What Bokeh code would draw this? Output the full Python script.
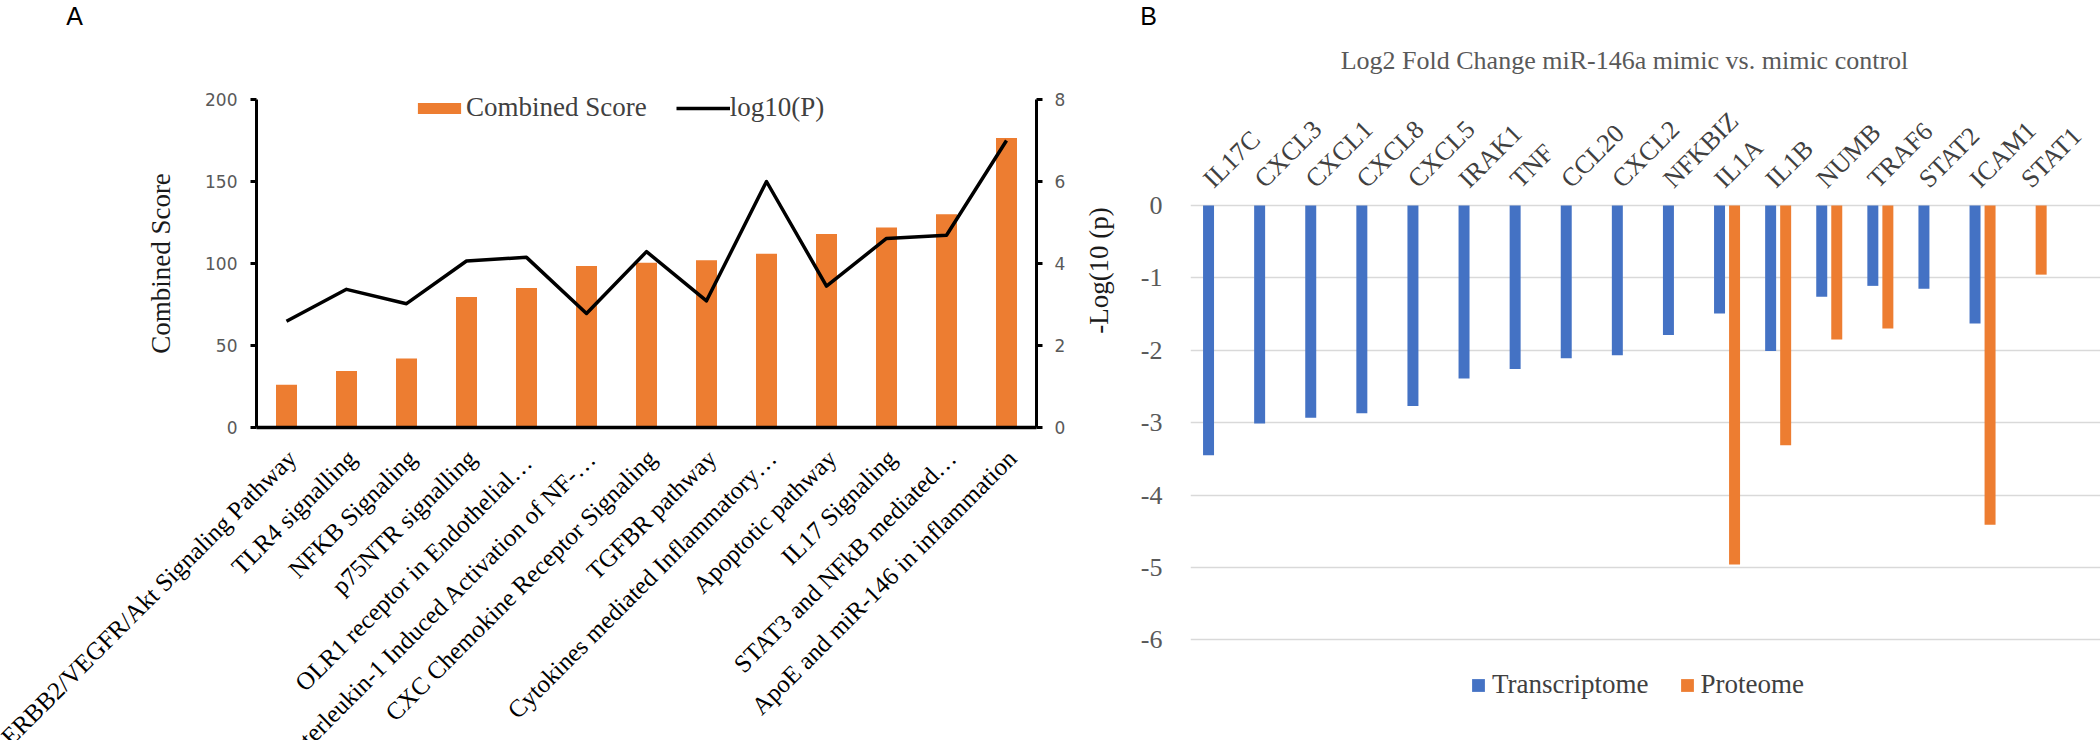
import math
from bokeh.plotting import figure
from bokeh.models import (Range1d, LinearAxis, FixedTicker, Legend, LegendItem,
                          Label, LabelSet, ColumnDataSource)
from bokeh.layouts import row
from bokeh.transform import dodge
from bokeh.embed import file_html
from bokeh.resources import INLINE

NAN = float("nan")

# ---------------- Panel A data ----------------
pathways = [
    "ERBB2/VEGFR/Akt Signaling Pathway",
    "TLR4 signalling",
    "NFKB Signaling",
    "p75NTR signalling",
    "OLR1 receptor in  Endothelial\u2026",
    "Interleukin-1 Induced Activation of NF-\u2026",
    "CXC Chemokine Receptor Signaling",
    "TGFBR pathway",
    "Cytokines mediated Inflammatory\u2026",
    "Apoptotic pathway",
    "IL17 Signaling",
    "STAT3 and NFkB mediated\u2026",
    "ApoE and miR-146 in inflammation",
]
combined_score = [26, 34.5, 42, 79.5, 85, 98.5, 100.5, 102, 106, 118, 122, 130, 176.5]
log10_p = [2.59, 3.37, 3.02, 4.06, 4.15, 2.78, 4.29, 3.09, 6.0, 3.45, 4.61, 4.69, 7.0]
left_ticks = [0, 50, 100, 150, 200]
right_ticks = [0, 2, 4, 6, 8]

# ---------------- Panel B data ----------------
genes = ["IL17C", "CXCL3", "CXCL1", "CXCL8", "CXCL5", "IRAK1", "TNF", "CCL20", "CXCL2",
         "NFKBIZ", "IL1A", "IL1B", "NUMB", "TRAF6", "STAT2", "ICAM1", "STAT1"]
transcriptome = [-3.45, -3.01, -2.93, -2.87, -2.77, -2.39, -2.26, -2.11, -2.07,
                 -1.79, -1.49, -2.01, -1.26, -1.11, -1.15, -1.63, NAN]
proteome = [NAN, NAN, NAN, NAN, NAN, NAN, NAN, NAN, NAN,
            NAN, -4.96, -3.31, -1.85, -1.70, NAN, -4.41, -0.955]
b_ticks = [0, -1, -2, -3, -4, -5, -6]

ORANGE = "#ED7D31"
BLUE = "#4472C4"
SERIF = "Liberation Serif"

H = 740  # canvas height of both panels

# ================= Panel A =================
WA = 1120
cat_px_a = 60.0          # pixels per category
axis_left_px = 256       # left axis position inside canvas
zero_px_a = 427          # y of the zero line from canvas top
k = 200 / 328.0          # score units per pixel
pa = figure(x_range=Range1d(-axis_left_px / cat_px_a, (WA - axis_left_px) / cat_px_a),
            y_range=Range1d(-(H - zero_px_a) * k, zero_px_a * k),
            frame_width=WA, frame_height=H, min_border=0,
            output_backend="svg", toolbar_location=None)
kp = 8 / 328.0
pa.extra_y_ranges = {"p": Range1d(-(H - zero_px_a) * kp, zero_px_a * kp)}
pa.outline_line_color = None
pa.grid.visible = False

n_a = len(pathways)
src_a = ColumnDataSource(dict(x=[i + 0.5 for i in range(n_a)], path=pathways,
                              score=combined_score, logp=log10_p, zero=[0] * n_a))
bars_a = pa.vbar(x="x", top="score", bottom=0, width=0.35, source=src_a,
                 fill_color=ORANGE, line_color=None)
line_a = pa.line(x="x", y="logp", source=src_a, y_range_name="p",
                 line_color="black", line_width=3.5, line_join="round")

# left axis
ya = pa.yaxis[0]
ya.fixed_location = 0
ya.bounds = (0, 200)
ya.ticker = FixedTicker(ticks=left_ticks)
ya.axis_line_width = 3
ya.axis_line_color = "black"
ya.major_tick_line_width = 3
ya.major_tick_line_color = "black"
ya.major_tick_out = 6
ya.major_tick_in = 0
ya.minor_tick_line_color = None
ya.major_label_standoff = 13
ya.major_label_text_font = "DejaVu Sans"
ya.major_label_text_font_size = "17px"
ya.major_label_text_color = "#595959"
ya.axis_label = "Combined Score"
ya.axis_label_text_font = SERIF
ya.axis_label_text_font_style = "normal"
ya.axis_label_text_font_size = "27px"
ya.axis_label_text_color = "#1a1a1a"
ya.axis_label_standoff = 26

# right axis
yr = LinearAxis(y_range_name="p", ticker=FixedTicker(ticks=right_ticks),
                fixed_location=n_a, bounds=(0, 8))
yr.axis_line_width = 3
yr.axis_line_color = "black"
yr.major_tick_line_width = 3
yr.major_tick_line_color = "black"
yr.major_tick_out = 6
yr.major_tick_in = 0
yr.minor_tick_line_color = None
yr.major_label_standoff = 12
yr.major_label_text_font = "DejaVu Sans"
yr.major_label_text_font_size = "17px"
yr.major_label_text_color = "#595959"
pa.add_layout(yr, "right")

# bottom axis: line only; category names drawn below it
xa = pa.xaxis[0]
xa.fixed_location = 0
xa.bounds = (0, n_a)
xa.ticker = FixedTicker(ticks=[])
xa.axis_line_width = 3.5
xa.axis_line_color = "black"
xa.major_tick_line_color = None
xa.minor_tick_line_color = None

cat_labels = LabelSet(x="x", y="zero", text="path", source=src_a,
                      angle=math.pi / 4, text_align="right", text_baseline="top",
                      x_offset=-4, y_offset=-17,
                      text_font=SERIF, text_font_size="25px", text_color="black")
pa.add_layout(cat_labels)

leg_a = Legend(items=[LegendItem(label="Combined Score", renderers=[bars_a]),
                      LegendItem(label="log10(P)", renderers=[line_a])],
               location=(412, H - 123), orientation="horizontal",
               glyph_width=54, glyph_height=14, label_standoff=0, spacing=29,
               padding=0, margin=0, border_line_color=None, background_fill_alpha=0,
               label_text_font=SERIF, label_text_font_size="27px",
               label_text_color="#404040")
pa.add_layout(leg_a)

pa.add_layout(Label(x=74, y=H - 15, x_units="screen", y_units="screen", text="A",
                    text_align="center", text_baseline="middle",
                    text_font="Liberation Sans", text_font_size="25px", text_color="black"))
pa.add_layout(Label(x=1098, y=H - 270, x_units="screen", y_units="screen", text="-Log(10 (p)",
                    angle=math.pi / 2, text_align="center", text_baseline="middle",
                    text_font=SERIF, text_font_size="27px", text_color="#1a1a1a"))

# ================= Panel B =================
cat_px_b = 51.1
left_b = 62
fw_b = 916
zero_px_b = 205          # zero line from canvas top
u = 72.4                 # pixels per unit
pb = figure(x_range=Range1d(0, fw_b / cat_px_b),
            y_range=Range1d(-(H - zero_px_b) / u, zero_px_b / u),
            frame_width=fw_b, frame_height=H,
            min_border=0, min_border_left=left_b,
            x_axis_location=None, output_backend="svg", toolbar_location=None)
pb.outline_line_color = None
pb.xgrid.visible = False
pb.ygrid.ticker = FixedTicker(ticks=b_ticks)
pb.ygrid.grid_line_color = "#D9D9D9"
pb.ygrid.grid_line_width = 1.5

n_b = len(genes)
src_b = ColumnDataSource(dict(x=[i + 0.5 for i in range(n_b)], gene=genes,
                              tr=transcriptome, pr=proteome, zero=[0] * n_b))
bt = pb.vbar(x=dodge("x", -0.147, range=pb.x_range), top="tr", bottom=0, width=0.215,
             source=src_b, fill_color=BLUE, line_color=None)
bp = pb.vbar(x=dodge("x", 0.147, range=pb.x_range), top="pr", bottom=0, width=0.215,
             source=src_b, fill_color=ORANGE, line_color=None)

yb = pb.yaxis[0]
yb.ticker = FixedTicker(ticks=b_ticks)
yb.major_label_overrides = {t: str(t) for t in b_ticks}
yb.axis_line_color = None
yb.major_tick_line_color = None
yb.minor_tick_line_color = None
yb.major_label_standoff = 22
yb.major_label_text_font = SERIF
yb.major_label_text_font_size = "26px"
yb.major_label_text_color = "#595959"

# gene names slanted at 45 degrees, starting just above the zero line
gene_labels = LabelSet(x="x", y="zero", text="gene", source=src_b,
                       angle=math.pi / 4, text_align="left", text_baseline="bottom",
                       x_offset=2, y_offset=12,
                       text_font=SERIF, text_font_size="26px", text_color="#404040")
pb.add_layout(gene_labels)

leg_b = Legend(items=[LegendItem(label="Transcriptome", renderers=[bt]),
                      LegendItem(label="Proteome", renderers=[bp])],
               location=(280, H - 700), orientation="horizontal",
               glyph_width=16, glyph_height=16, label_standoff=6, spacing=30,
               padding=0, margin=0, border_line_color=None, background_fill_alpha=0,
               label_text_font=SERIF, label_text_font_size="27px",
               label_text_color="#404040")
pb.add_layout(leg_b)

# panel letter, kept in the left margin panel so that it is not clipped by the frame
pb.add_layout(Label(x=28, y=H - 15, x_units="screen", y_units="screen", text="B",
                    text_align="center", text_baseline="middle",
                    text_font="Liberation Sans", text_font_size="25px", text_color="black"),
              "left")
pb.add_layout(Label(x=434, y=H - 60, x_units="screen", y_units="screen",
                    text="Log2 Fold Change miR-146a mimic vs. mimic control",
                    text_align="center", text_baseline="middle",
                    text_font=SERIF, text_font_size="26px", text_color="#595959"))

layout = row(pa, pb)
open("out.html", "w").write(file_html(layout, INLINE))
